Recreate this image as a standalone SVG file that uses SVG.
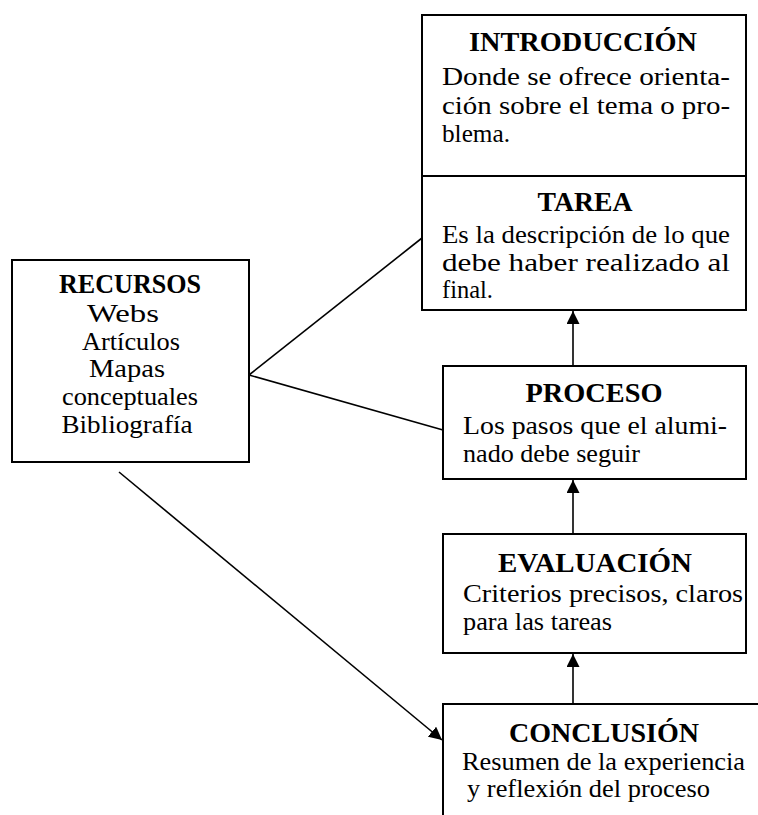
<svg xmlns="http://www.w3.org/2000/svg" width="758" height="815" viewBox="0 0 758 815">
  <defs>
    <style>
      .box { fill: #ffffff; stroke: #000000; stroke-width: 2; }
      .link { stroke: #000000; stroke-width: 1.6; fill: none; }
      .title { font-family: "Liberation Serif", "Times New Roman", serif; font-weight: bold; font-size: 27px; fill: #000; text-anchor: middle; }
      .body { font-family: "Liberation Serif", "Times New Roman", serif; font-size: 26px; fill: #000; }
      .mid { text-anchor: middle; }
    </style>
    <marker id="arrow" viewBox="0 0 13 13" refX="13" refY="6.5" markerWidth="13" markerHeight="13" markerUnits="userSpaceOnUse" orient="auto">
      <path d="M0,0 L13,6.5 L0,13 Z" fill="#000"/>
    </marker>
  </defs>

  <rect width="758" height="815" fill="#ffffff"/>

  <!-- connectors -->
  <g id="connectors">
    <line class="link" x1="249" y1="375" x2="422" y2="238"/>
    <line class="link" x1="249" y1="375" x2="443" y2="430"/>
    <line class="link" x1="119" y1="472" x2="442" y2="740" marker-end="url(#arrow)"/>
    <line class="link" x1="573" y1="370" x2="573" y2="311" marker-end="url(#arrow)"/>
    <line class="link" x1="573" y1="534" x2="573" y2="480" marker-end="url(#arrow)"/>
    <line class="link" x1="573" y1="704" x2="573" y2="654" marker-end="url(#arrow)"/>
  </g>

  <!-- introduction -->
  <g id="introduccion">
    <rect class="box" x="422" y="15" width="324" height="161"/>
    <text class="title" x="583" y="51" textLength="228" lengthAdjust="spacingAndGlyphs">INTRODUCCIÓN</text>
    <text class="body" x="442" y="85" textLength="288" lengthAdjust="spacingAndGlyphs">Donde se ofrece orienta-</text>
    <text class="body" x="442" y="114" textLength="288" lengthAdjust="spacingAndGlyphs">ción sobre el tema o pro-</text>
    <text class="body" x="442" y="142" textLength="68" lengthAdjust="spacingAndGlyphs">blema.</text>
  </g>

  <!-- task -->
  <g id="tarea">
    <rect class="box" x="422" y="176" width="324" height="134"/>
    <text class="title" x="585" y="211" textLength="95" lengthAdjust="spacingAndGlyphs">TAREA</text>
    <text class="body" x="442" y="243" textLength="288" lengthAdjust="spacingAndGlyphs">Es la descripción de lo que</text>
    <text class="body" x="442" y="271" textLength="288" lengthAdjust="spacingAndGlyphs">debe haber realizado al</text>
    <text class="body" x="442" y="298" textLength="51" lengthAdjust="spacingAndGlyphs">final.</text>
  </g>

  <!-- resources -->
  <g id="recursos">
    <rect class="box" x="12" y="260" width="237" height="202"/>
    <text class="title" x="130" y="293" textLength="142" lengthAdjust="spacingAndGlyphs">RECURSOS</text>
    <text class="body mid" x="123" y="322" textLength="72" lengthAdjust="spacingAndGlyphs">Webs</text>
    <text class="body mid" x="131" y="350" textLength="98" lengthAdjust="spacingAndGlyphs">Artículos</text>
    <text class="body mid" x="127" y="377" textLength="76" lengthAdjust="spacingAndGlyphs">Mapas</text>
    <text class="body mid" x="130" y="405" textLength="136" lengthAdjust="spacingAndGlyphs">conceptuales</text>
    <text class="body mid" x="127" y="433" textLength="131" lengthAdjust="spacingAndGlyphs">Bibliografía</text>
  </g>

  <!-- process -->
  <g id="proceso">
    <rect class="box" x="443" y="366" width="303" height="113"/>
    <text class="title" x="594" y="402" textLength="137" lengthAdjust="spacingAndGlyphs">PROCESO</text>
    <text class="body" x="463" y="434" textLength="264" lengthAdjust="spacingAndGlyphs">Los pasos que el alumi-</text>
    <text class="body" x="463" y="462" textLength="177" lengthAdjust="spacingAndGlyphs">nado debe seguir</text>
  </g>

  <!-- evaluation -->
  <g id="evaluacion">
    <rect class="box" x="443" y="534" width="303" height="119"/>
    <text class="title" x="595" y="572" textLength="194" lengthAdjust="spacingAndGlyphs">EVALUACIÓN</text>
    <text class="body" x="463" y="602" textLength="280" lengthAdjust="spacingAndGlyphs">Criterios precisos, claros</text>
    <text class="body" x="463" y="630" textLength="149" lengthAdjust="spacingAndGlyphs">para las tareas</text>
  </g>

  <!-- conclusion (runs past the right and bottom edges) -->
  <g id="conclusion">
    <rect class="box" x="443" y="704" width="340" height="140"/>
    <text class="title" x="604" y="742" textLength="190" lengthAdjust="spacingAndGlyphs">CONCLUSIÓN</text>
    <text class="body" x="462" y="770" textLength="283" lengthAdjust="spacingAndGlyphs">Resumen de la experiencia</text>
    <text class="body" x="467" y="797" textLength="243" lengthAdjust="spacingAndGlyphs">y reflexión del proceso</text>
  </g>
</svg>
